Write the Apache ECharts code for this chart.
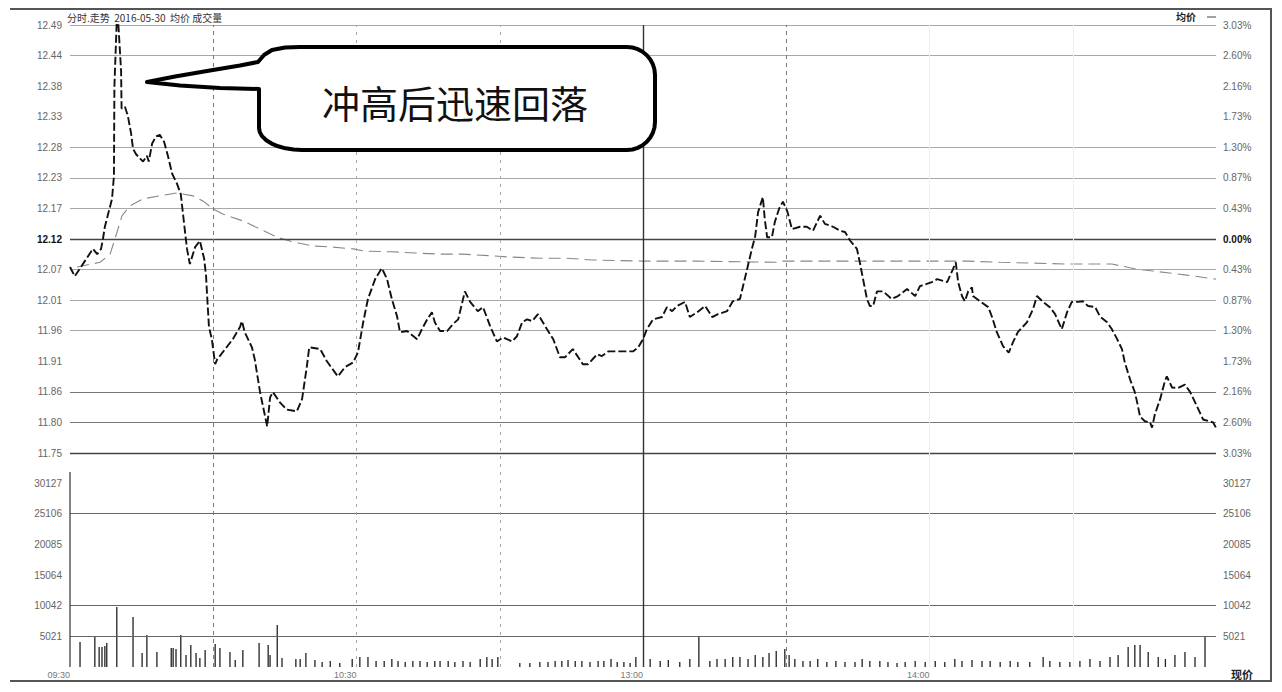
<!DOCTYPE html>
<html><head><meta charset="utf-8">
<script src="https://cdn.jsdelivr.net/npm/echarts@6/dist/echarts.min.js"></script>
<style>html,body{margin:0;padding:0;background:#fff}#c{width:1282px;height:692px}</style>
</head><body><div id="c"></div>
<script>
// ---- data ----
const preClose = 12.12;
const priceStep = 0.0525;
const priceLabels = ['12.49','12.44','12.38','12.33','12.28','12.23','12.17','12.12','12.07','12.01','11.96','11.91','11.86','11.80','11.75'];
const pctLabels = ['3.03%','2.60%','2.16%','1.73%','1.30%','0.87%','0.43%','0.00%','0.43%','0.87%','1.30%','1.73%','2.16%','2.60%','3.03%'];
const volStep = 5021.2;
const volLabels = ['', '5021', '10042', '15064', '20085', '25106', '30127'];
const timeLabels = ['09:30', '10:30', '13:00', '14:00', ''];
const titleText = '分时.走势  2016-05-30  均价 成交量';
const calloutText = '冲高后迅速回落';
const avgLegendText = '均价';
const cornerText = '现价';

// minutes after 09:30 (trading minutes) and price
const priceTimes = [0,1,3.1,4.8,5.7,6.5,6.9,7.3,8.8,9.2,9.3,9.9,10.7,10.8,11.5,12.1,12.8,13.2,13.8,14.7,15.3,16.1,16.5,17.2,18,18.8,19.7,20.5,21.4,22.4,23.2,23.9,24.5,25.1,26.2,27.2,28.1,28.5,28.7,29.1,29.7,30.4,30.8,32.5,34.1,35.6,36,36.6,38.1,38.7,39.8,41.3,41.9,42.5,44,45.4,47.5,48.6,49.6,50.1,52.4,53.8,56.1,57.6,59.3,60.3,61.4,62.4,63.9,65.3,66.4,67.4,68.5,69.1,70.6,72.7,73.7,74.8,75.8,76.4,77.5,79,80.2,81.3,82.7,83.8,85.4,86.5,88,89.4,90.7,92.6,93.6,94.7,95.7,96.8,98,99.9,101.2,102.6,103.7,105.3,107.4,108.5,110.4,111.4,112.7,114.6,116.6,117.9,119,120,120.8,122.1,124,125,126.1,127.1,128.8,129.8,131.3,133,134.5,135.7,137.6,138.8,140.3,141.8,142.8,143.5,144.1,145.1,145.5,146,147,147.6,148.5,149.3,150.2,151.2,152.9,154.3,155.6,157.1,158.1,159.8,161.3,162.3,163.4,164.8,165.4,166.9,167.5,168.2,169,170.3,172.1,173.4,175.3,177,178,180.5,181.6,183.7,184.9,185.5,186,186.8,187.4,188.1,188.9,189.1,190.6,192.3,193.1,194.1,195.4,196.6,197.5,198.5,200.4,201.7,202.5,203.8,205.2,206.3,207.7,208.8,209.8,211.1,212.1,213.2,214.7,215.7,217.2,218.2,219.3,220.3,220.9,222,223,223.5,224.1,225.1,226.2,226.6,227.2,228.3,229.3,229.7,230.8,232,233.5,234.6,236,237.3,239.4,240];
const priceValues = [12.072,12.056,12.082,12.103,12.094,12.103,12.120,12.141,12.189,12.228,12.382,12.520,12.409,12.344,12.347,12.332,12.301,12.275,12.266,12.258,12.253,12.263,12.253,12.284,12.296,12.299,12.287,12.263,12.232,12.215,12.197,12.146,12.103,12.077,12.106,12.117,12.086,12.056,12.025,11.969,11.948,11.905,11.913,11.931,11.948,11.969,11.979,11.960,11.934,11.913,11.857,11.798,11.848,11.857,11.839,11.827,11.824,11.845,11.901,11.934,11.931,11.910,11.884,11.900,11.908,11.925,11.977,12.017,12.051,12.070,12.051,12.017,11.987,11.960,11.962,11.948,11.965,11.982,11.994,11.977,11.962,11.962,11.974,11.982,12.030,12.012,11.996,12.003,11.970,11.944,11.951,11.944,11.953,11.977,11.982,11.979,11.991,11.965,11.948,11.917,11.917,11.931,11.905,11.905,11.922,11.919,11.927,11.927,11.927,11.927,11.934,11.948,11.965,11.982,11.986,12.003,11.996,12.005,12.012,11.986,11.994,12.005,11.986,11.991,11.996,12.013,12.017,12.068,12.103,12.125,12.166,12.192,12.154,12.123,12.123,12.149,12.172,12.184,12.168,12.137,12.141,12.141,12.134,12.160,12.146,12.141,12.134,12.132,12.117,12.103,12.080,12.017,12.005,12.005,12.030,12.030,12.017,12.022,12.034,12.022,12.039,12.046,12.051,12.046,12.068,12.080,12.046,12.022,12.013,12.030,12.037,12.022,12.013,12.003,11.986,11.960,11.936,11.925,11.943,11.960,11.977,12.000,12.022,12.012,12.003,11.991,11.965,11.994,12.012,12.012,12.013,12.005,12.003,11.987,11.977,11.965,11.948,11.931,11.908,11.879,11.857,11.839,11.815,11.807,11.805,11.796,11.819,11.845,11.876,11.884,11.865,11.864,11.870,11.857,11.833,11.810,11.805,11.796];

const avgTimes = [1.5,6.3,8.4,9.4,10.9,12.6,15.3,18.8,22.4,25.8,27.9,29.9,32,36.2,39.8,43.4,46.7,50.9,55.1,59.3,61.8,67.4,72.3,77.5,82.1,88.6,92.1,98.4,104.1,109.3,120,124.6,131.3,148.1,149.3,157.5,168.2,182.2,187.9,194.8,209,218.2,223.5,226.8,233.9,240];
const avgValues = [12.072,12.080,12.094,12.120,12.160,12.177,12.189,12.194,12.199,12.194,12.185,12.172,12.163,12.151,12.137,12.123,12.115,12.108,12.106,12.103,12.099,12.098,12.096,12.094,12.094,12.091,12.089,12.087,12.087,12.084,12.082,12.082,12.082,12.080,12.082,12.082,12.082,12.082,12.082,12.080,12.077,12.077,12.068,12.065,12.058,12.051];

const volTimes = [2.1,5.2,6.1,6.7,7.3,7.7,9.8,13.2,15.1,16.1,18.2,21.2,21.6,22.2,23.2,24.3,25.3,26.4,27.2,28.3,30.4,31.4,33.5,34.6,36.2,39.6,41.5,41.9,43.4,44.4,47.3,48.2,49.4,51.3,
  52.8,54.5,56.5,59.1,60.7,62.4,64.1,65.8,67.4,68.7,70.2,71.8,73.3,74.8,76.4,77.5,79.2,80.6,82.3,83.8,85.9,87.3,88.4,89.6,94.2,96.3,98.4,100.1,101.6,103,104.3,105.8,107.2,108.9,110.6,111.8,113.3,114.6,116,117.3,118.5,
  121.5,123.6,125.3,127.7,129.8,131.7,134,135.5,137.2,138.8,140.3,142,143.5,145.1,146.4,147.9,149.7,150.6,151.8,153.5,155,156.6,158.5,160.4,162.3,164.4,165.9,167.5,169.6,171.3,173.2,174.9,177,179.1,181.2,183.2,185.3,186.8,188.9,191,192.7,194.8,196.9,198.5,201,203.8,205.2,207.3,209.4,211.5,213.6,215.7,217.8,219.5,221.6,223,224.1,225.8,227.9,229.4,231.4,233.5,235.6,237.7];
const volValues = [4090,4900,3270,3270,3440,3930,9820,8190,2290,5240,2460,3110,3110,2950,5240,1960,3600,2290,1470,2780,3770,3110,2460,1150,2780,3930,3600,1960,6880,1470,1310,1310,2290,1150,
  820,980,655,1310,1640,1640,980,980,1310,980,820,980,980,820,980,980,980,820,980,820,1310,1640,1310,1640,655,655,820,820,980,980,1150,980,980,820,980,980,1310,820,820,655,1640,
  1310,980,1150,820,1310,4910,980,1310,1310,1640,1640,1310,1960,1640,2290,2620,2950,1960,1310,980,980,1310,820,980,820,820,1310,980,980,820,655,820,980,820,980,820,1310,980,1150,980,980,820,980,820,820,1640,980,820,820,980,1310,980,1640,1960,3270,3600,3600,2460,1640,1310,1960,2460,1640,4910];

// which reference grid lines are visible (in price steps / volume steps)
const priceGridSteps = [7,6,3,2,1,0,-1,-2,-3,-5,-6,-7];
const volGridSteps = [6,5,2,1];
const timeLines = [30,60,90,120,150,180,210];

// ---- chart ----
const toStep = p => (p - preClose) / priceStep;
const chart = echarts.init(document.getElementById('c'), null, {renderer: 'svg'});
const labelFont = {fontSize: 10, color: '#666', fontFamily: 'Liberation Sans, Arial, sans-serif'};
const boldRich = {b: {fontSize: 10, color: '#111', fontWeight: 'bold', fontFamily: 'Liberation Sans, Arial, sans-serif'}};

function hLineStyle(s) {
  if (s === 0 || s === -7) return {color: '#444', width: 1.4, type: 'solid'};
  if (s === -5 || s === -6) return {color: '#777', width: 1, type: 'solid'};
  return {color: '#a8a8a8', width: 1, type: 'solid'};
}
function vLineStyle(t) {
  if (t === 120) return {color: '#333', width: 1.4, type: 'solid'};
  if (t === 30 || t === 150) return {color: '#777', width: 1, type: [4, 4]};
  if (t === 60 || t === 90) return {color: '#aaa', width: 1, type: [3, 5]};
  return {color: '#eee', width: 1, type: 'solid'};
}
const ml = (data) => ({symbol: ['none', 'none'], silent: true, animation: false, label: {show: false}, emphasis: {disabled: true}, data});

// callout outline (speech bubble) built from a few segments
function arcPts(cx, cy, rx, ry, a0, a1, n) {
  const pts = [];
  for (let i = 0; i <= n; i++) {
    const a = (a0 + (a1 - a0) * i / n) * Math.PI / 180;
    pts.push([cx + rx * Math.cos(a), cy + ry * Math.sin(a)]);
  }
  return pts;
}
const bubble = [].concat(
  [[147, 82], [175, 76.5], [210, 70.5], [240, 65.5], [258, 62], [264, 55], [272, 50], [285, 47.5], [300, 47]],
  arcPts(627, 75, 28, 28, -90, 0, 8),
  arcPts(627, 122, 28, 28, 0, 90, 8),
  arcPts(302, 128, 43, 22, 90, 180, 8),
  [[259, 89], [220, 88], [180, 85.5]]
);

const option = {
  animation: false,
  backgroundColor: '#fff',
  grid: [
    {left: 70, top: 25, width: 1146, height: 428},
    {left: 70, top: 483, width: 1146, height: 184},
    {left: 70, top: 25, width: 1146, height: 642}
  ],
  xAxis: [
    {gridIndex: 0, type: 'value', min: 0, max: 240, show: false},
    {gridIndex: 1, type: 'value', min: 0, max: 240, interval: 60,
      axisLine: {show: false}, axisTick: {show: false}, splitLine: {show: false},
      axisLabel: Object.assign({}, labelFont, {fontSize: 9, color: '#777', margin: 3, align: 'right', showMaxLabel: true,
        formatter: v => timeLabels[Math.round(v / 60)] || ''})},
    {gridIndex: 2, type: 'value', min: 0, max: 240, show: false}
  ],
  yAxis: [
    {gridIndex: 0, type: 'value', min: -7, max: 7, interval: 1, position: 'left',
      axisLine: {show: false}, axisTick: {show: false}, splitLine: {show: false},
      axisLabel: Object.assign({}, labelFont, {margin: 8, rich: boldRich,
        formatter: v => { const i = 7 - Math.round(v); return i === 7 ? '{b|' + priceLabels[i] + '}' : priceLabels[i]; }})},
    {gridIndex: 0, type: 'value', min: -7, max: 7, interval: 1, position: 'right',
      axisLine: {show: false}, axisTick: {show: false}, splitLine: {show: false},
      axisLabel: Object.assign({}, labelFont, {margin: 7, rich: boldRich,
        formatter: v => { const i = 7 - Math.round(v); return i === 7 ? '{b|' + pctLabels[i] + '}' : pctLabels[i]; }})},
    {gridIndex: 1, type: 'value', min: 0, max: volStep * 6, interval: volStep, position: 'left',
      axisLine: {show: false}, axisTick: {show: false}, splitLine: {show: false},
      axisLabel: Object.assign({}, labelFont, {margin: 8, formatter: v => volLabels[Math.round(v / volStep)] || ''})},
    {gridIndex: 1, type: 'value', min: 0, max: volStep * 6, interval: volStep, position: 'right',
      axisLine: {show: false}, axisTick: {show: false}, splitLine: {show: false},
      axisLabel: Object.assign({}, labelFont, {margin: 7, formatter: v => volLabels[Math.round(v / volStep)] || ''})},
    {gridIndex: 2, type: 'value', min: 0, max: 1, show: false}
  ],
  series: [
    {type: 'scatter', xAxisIndex: 0, yAxisIndex: 0, data: [], z: 1,
      markLine: ml(priceGridSteps.map(s => ({yAxis: s, lineStyle: hLineStyle(s)})))},
    {type: 'scatter', xAxisIndex: 1, yAxisIndex: 2, data: [], z: 1,
      markLine: ml(volGridSteps.map(s => ({yAxis: s * volStep, lineStyle: {color: '#666', width: 1.2, type: 'solid'}})))},
    {type: 'scatter', xAxisIndex: 2, yAxisIndex: 4, data: [], z: 1,
      markLine: ml(timeLines.map(t => ({xAxis: t, lineStyle: vLineStyle(t)})))},
    {type: 'bar', xAxisIndex: 1, yAxisIndex: 2, barWidth: 1.3, z: 3,
      itemStyle: {color: '#222'}, data: volTimes.map((t, i) => [t, volValues[i]])},
    {type: 'line', xAxisIndex: 0, yAxisIndex: 0, showSymbol: false, z: 4, clip: true,
      lineStyle: {color: '#888', width: 1.1, type: [12, 6]},
      data: avgTimes.map((t, i) => [t, toStep(avgValues[i])])},
    {type: 'line', xAxisIndex: 0, yAxisIndex: 0, showSymbol: false, z: 5, clip: true,
      lineStyle: {color: '#111', width: 1.9, type: [8, 3]},
      data: priceTimes.map((t, i) => [t, toStep(priceValues[i])])}
  ],
  graphic: [
    {type: 'polyline', silent: true, z: 10, shape: {points: [[10, 9], [1271, 9], [1271, 681], [10, 681]]},
      style: {stroke: '#555', lineWidth: 2, fill: null}},
    {type: 'line', silent: true, z: 10, shape: {x1: 70, y1: 472, x2: 70, y2: 667}, style: {stroke: '#333', lineWidth: 1.2}},
    {type: 'text', silent: true, z: 10, x: 67, y: 17,
      style: {text: titleText, fill: '#333', fontSize: 10, fontFamily: 'Noto Sans CJK SC, sans-serif', verticalAlign: 'middle'}},
    {type: 'text', silent: true, z: 10, x: 1176, y: 16,
      style: {text: avgLegendText, fill: '#222', fontSize: 10, fontWeight: 'bold', fontFamily: 'Noto Sans CJK SC, sans-serif', verticalAlign: 'middle'}},
    {type: 'line', silent: true, z: 10, shape: {x1: 1207, y1: 17, x2: 1216, y2: 17}, style: {stroke: '#444', lineWidth: 1}},
    {type: 'text', silent: true, z: 10, x: 1231, y: 674,
      style: {text: cornerText, fill: '#222', fontSize: 11, fontWeight: 'bold', fontFamily: 'Noto Sans CJK SC, sans-serif', verticalAlign: 'middle'}},
    {type: 'polygon', silent: true, z: 20, shape: {points: bubble},
      style: {fill: '#fff', stroke: '#000', lineWidth: 4, lineJoin: 'round'}},
    {type: 'text', silent: true, z: 21, x: 455, y: 101,
      style: {text: calloutText, fill: '#111', fontSize: 38, fontFamily: 'Noto Sans CJK SC, sans-serif', align: 'center', verticalAlign: 'middle'}}
  ]
};
chart.setOption(option);
</script>
</body></html>
